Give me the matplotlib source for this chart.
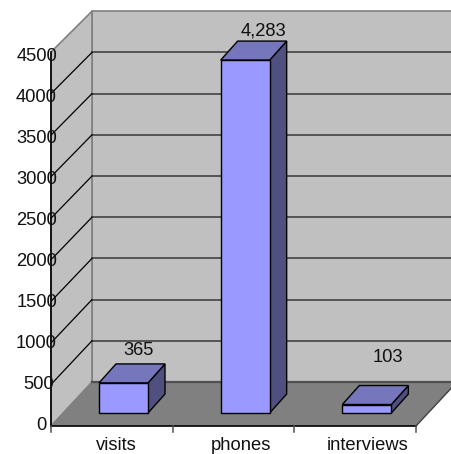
import matplotlib
matplotlib.use('Agg')
import matplotlib.pyplot as plt
from matplotlib.patches import Polygon

categories = ['visits', 'phones', 'interviews']
values = [365, 4283, 103]
value_labels = ['365', '4,283', '103']
y_ticks = [0, 500, 1000, 1500, 2000, 2500, 3000, 3500, 4000, 4500]

plt.rcParams['font.family'] = ['Liberation Sans', 'DejaVu Sans']

W, H = 451, 454
CAT_PX = 121.67    # pixels per category on the front axis
UNIT_PX = 0.0831   # pixels per value unit on the front axis
X0, Y0 = 51, 426   # front origin in pixels

# projection constants, in data units
WALL_DX = 41 / CAT_PX
WALL_LIFT = 44 / UNIT_PX
BAR_LIFT = 13 / UNIT_PX
BAR_SCALE = 0.0824 / UNIT_PX
BAR_DX = 17 / CAT_PX
BAR_DY = 19 / UNIT_PX
BAR_W = 49 / CAT_PX
BAR_LEFT = 48 / CAT_PX
FONT = 13.2


def wall_y(v):
    return WALL_LIFT + v * BAR_SCALE


fig = plt.figure(figsize=(W / 100, H / 100), dpi=100)
ax = fig.add_axes([0, 0, 1, 1])
ax.set_xlim(-X0 / CAT_PX, (W - X0) / CAT_PX)
ax.set_ylim(-(H - Y0) / UNIT_PX, Y0 / UNIT_PX)
ax.axis('off')

top = y_ticks[-1]
x_end = len(categories)
right = x_end + WALL_DX + 1

# walls and floor
ax.add_patch(Polygon([(WALL_DX, wall_y(0)), (WALL_DX, wall_y(top)), (right, wall_y(top)),
                      (right, wall_y(0))], fc='#c0c0c0', ec='#808080', lw=1.2, zorder=1))
ax.add_patch(Polygon([(0, 0), (0, top), (WALL_DX, wall_y(top)), (WALL_DX, wall_y(0))],
                     fc='#c0c0c0', ec='#808080', lw=1.2, zorder=1))
ax.add_patch(Polygon([(0, 0), (WALL_DX, wall_y(0)), (x_end + WALL_DX, wall_y(0)), (x_end, 0)],
                     fc='#808080', ec='none', zorder=1))
ax.plot([x_end, x_end + WALL_DX], [0, wall_y(0)], color='#404040', lw=1, zorder=2)
ax.plot([WALL_DX, right], [wall_y(0)] * 2, color='#505050', lw=1.6, zorder=2)

# gridlines run across the back wall and down the side wall
for v in y_ticks[1:-1]:
    ax.plot([WALL_DX, right], [wall_y(v)] * 2, color='#383838', lw=1.1, zorder=2)
    ax.plot([0, WALL_DX], [v, wall_y(v)], color='black', lw=0.9, zorder=2)

# 3D bars: front, top and side faces
for i, v in enumerate(values):
    x0 = i + BAR_LEFT
    x1 = x0 + BAR_W
    y0 = BAR_LIFT
    y1 = BAR_LIFT + v * BAR_SCALE
    ax.add_patch(Polygon([(x1, y0), (x1, y1), (x1 + BAR_DX, y1 + BAR_DY), (x1 + BAR_DX, y0 + BAR_DY)],
                         fc='#4f4f80', ec='black', lw=1, zorder=3))
    ax.add_patch(Polygon([(x0, y1), (x1, y1), (x1 + BAR_DX, y1 + BAR_DY), (x0 + BAR_DX, y1 + BAR_DY)],
                         fc='#7676bd', ec='black', lw=1, zorder=3))
    ax.add_patch(Polygon([(x0, y0), (x1, y0), (x1, y1), (x0, y1)],
                         fc='#9999ff', ec='black', lw=1, zorder=4))

# value labels sit above each bar, 103 is pushed up clear of the floor
label_x = [0.72, 1.75, 2.77]
label_y = [905, 4755, 820]
for lx, ly, t in zip(label_x, label_y, value_labels):
    ax.text(lx, ly, t, ha='center', va='center', fontsize=FONT, color='#111111', zorder=5)

# axes
ax.plot([0, 0], [0, top], color='black', lw=1.2, zorder=5)
ax.plot([0, x_end], [0, 0], color='black', lw=1.2, zorder=5)
for c in range(x_end + 1):
    ax.plot([c, c], [0, -6 / UNIT_PX], color='#505050', lw=1.1, zorder=5)

for v in y_ticks:
    s = str(v)
    lx = (47 + 3.33 * (len(s) - 1) - X0) / CAT_PX
    ly = v * (370 / 374)
    ax.text(lx, ly, s, ha='right', va='center', fontsize=FONT, color='#111111', zorder=6)

# baseline kept high enough that the descender of "phones" stays on the canvas
cat_x = [0.54, 1.56, 2.6]
for cx, name in zip(cat_x, categories):
    ax.text(cx, -23.5 / UNIT_PX, name, ha='center', va='baseline', fontsize=FONT, color='#111111', zorder=6)

fig.savefig('out.png', dpi=100)
